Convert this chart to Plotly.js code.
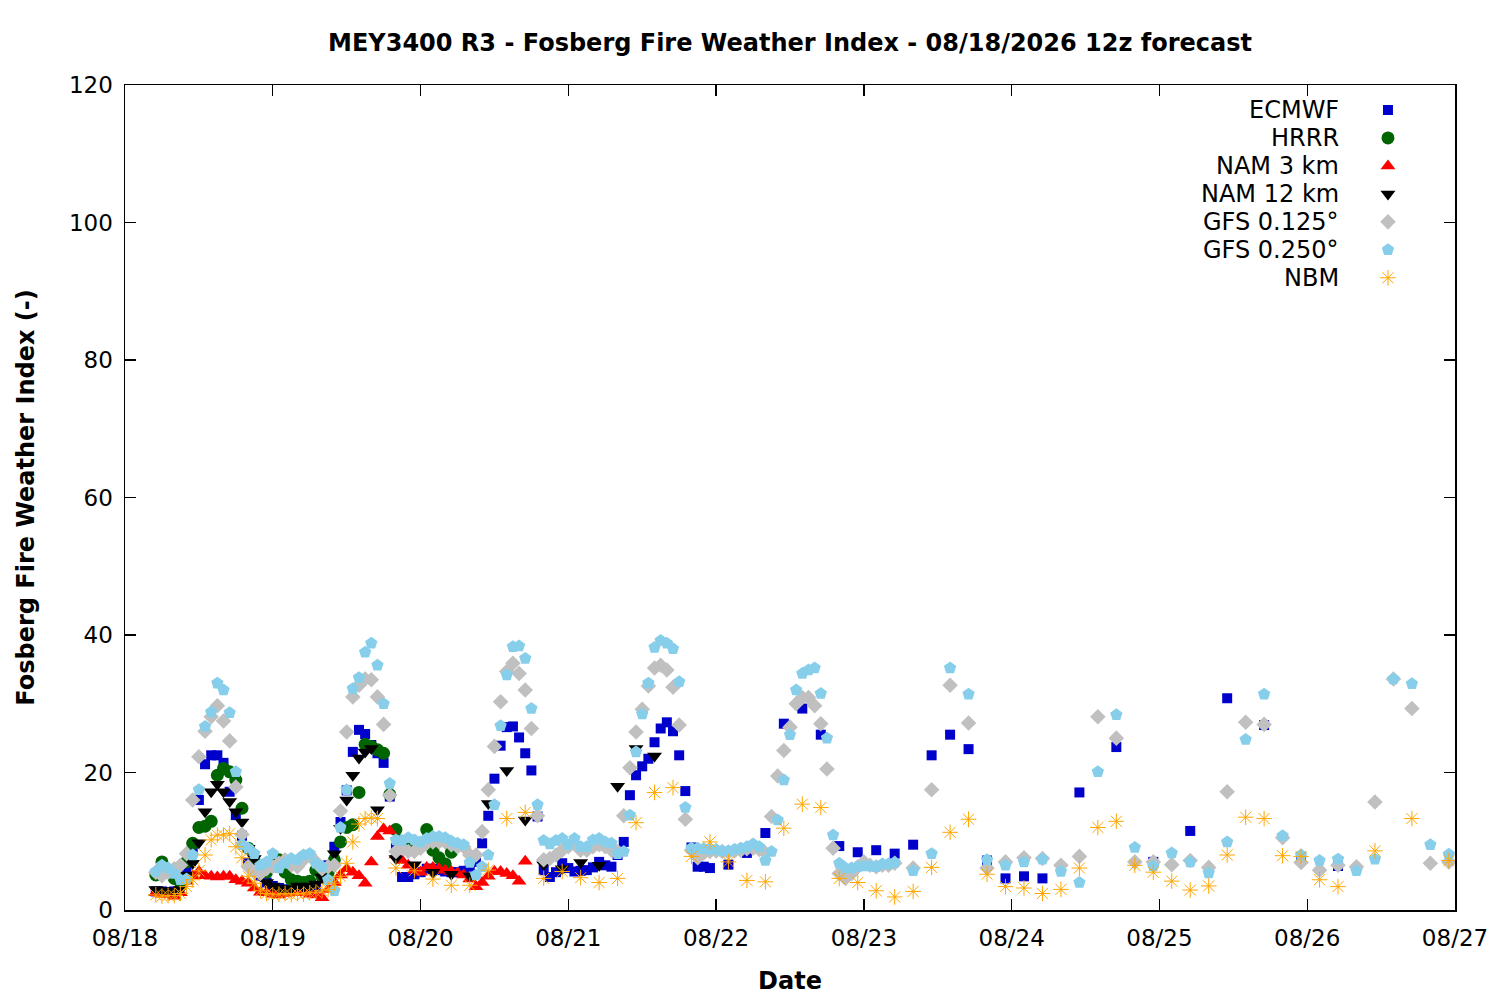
<!DOCTYPE html>
<html>
<head>
<meta charset="utf-8">
<script src="https://cdn.plot.ly/plotly-3.0.1.min.js"></script>
<style>
  html, body { margin: 0; padding: 0; background: #fff; }
  #chart { width: 1500px; height: 1000px; }
</style>
</head>
<body>
<div id="chart"></div>
<script>
// forecast hours are counted from 08/18 00:00 (local time)
function span(a, b, step) {
  var out = [];
  for (var h = a; h <= b; h += step) out.push(h);
  return out;
}
function toDate(h) {
  var d = new Date(Date.UTC(2026, 7, 18, 0) + h * 3600000);
  return d.toISOString().slice(0, 19).replace("T", " ");
}

// ECMWF: hourly to h95, 3-hourly to h149, 6-hourly after
var ecmwfHours = span(5, 95, 1).concat(span(98, 149, 3), span(155, 197, 6));
var ecmwfVals = [
  2.7, 2.7, 2.6, 2.7, 4, 5.8, 8.7, 16, 21.2, 22.5,
  22.5, 21.4, 17.2, 13.8, 10.8, 6.8, 6.3, 5, 4, 3.5,
  3.2, 3, 3, 2.8, 2.9, 3.1, 3.4, 4.6, 6.5, 9.2,
  12.8, 17.4, 23, 26.2, 25.6, 24, 22.8, 21.4, 16.5, 9,
  4.8, 4.8, 5.2, 5.5, 6, 6, 5.8, 5.6, 5.5, 5.5,
  5.7, 6.3, 7, 9.7, 13.7, 19.1, 23.9, 26.6, 26.7, 25.1,
  22.8, 20.3, 13.6, 5.8, 4.8, 5.5, 6.8, 6.1, 5.6, 5.7,
  5.8, 6.2, 7, 6.5, 6.3, 8, 9.9, 16.7, 19.6, 20.9,
  22, 24.4, 26.4, 27.3, 26, 22.5, 17.3, 9.1, 6.3, 6.3,
  6.1,
  6.6, 8.3, 11.2, 27.1, 29.3, 25.5, 9.3, 8.4, 8.7, 8.2,
  9.5, 22.5, 25.5, 23.4, 7.2, 4.6, 4.9, 4.6,
  17.1, 23.7, 7, 11.5, 30.8, 26.9, 7.3, 6.4
];

// HRRR: hourly h5..h53
var hrrrHours = span(5, 53, 1);
var hrrrVals = [
  5.1, 7, 5.5, 4.6, 4, 7, 9.7, 12, 12.2, 12.9,
  19.6, 20.6, 20.1, 18.9, 14.8, 9, 7, 6.5, 5.5, 6.5,
  7.3, 5.5, 4.4, 4.2, 4, 4.2, 5.8, 4.8, 5.5, 7.3,
  9.9, 12, 12.4, 17.1, 24.1, 23.8, 23.3, 22.8, 16.8, 11.7,
  10, 9.5, 9, 9.5, 11.7, 8.7, 7.6, 6.7, 8.4
];

// NAM 3 km: hourly h5..h65
var nam3Hours = span(5, 65, 1);
var nam3Vals = [
  2.5, 2.3, 2.3, 2, 2.5, 4.2, 5, 5.6, 5, 4.9,
  4.8, 4.9, 4.9, 4.4, 4.2, 3.9, 3.2, 2.6, 2.5, 2.3,
  2.2, 2.4, 2.5, 2.5, 2.6, 2.3, 2.2, 1.8, 3, 4,
  5.1, 6, 5.5, 5, 3.9, 7, 10.7, 11.8, 11.5, 8,
  7.2, 6.5, 5.8, 5.5, 6.2, 6.2, 6, 5.8, 5.6, 5.4,
  5.1, 4.5, 3.4, 4, 4.9, 5.6, 5.6, 5.3, 5, 4.2,
  7.1
];

// NAM 12 km: hourly to h41, then 3-hourly
var nam12Hours = span(5, 41, 1).concat(span(44, 86, 3));
var nam12Vals = [
  3, 2.8, 2.8, 2.7, 3, 5.1, 6.8, 9.8, 14.3, 17.2,
  18.3, 17.2, 15.8, 14.3, 12.8, 9, 7.5, 5, 4, 3.5,
  3.2, 3, 3.1, 3.5, 3.4, 3.5, 3.8, 4.8, 6.5, 8.2,
  11.9, 16, 19.6, 22.1, 23, 23.5, 14.6,
  7.5, 6.6, 5.5, 5.2, 5, 15.5, 20.3, 13.1, 6.6, 6,
  6.9, 6.5, 18, 23.5, 22.4
];

// GFS 0.125: hourly to h125, then 3-hourly
var gfs125Hours = span(5, 125, 1).concat(span(128, 215, 3));
var gfs125Vals = [
  5.5, 5, 5.5, 6, 6.5, 8.2, 16, 22.3, 26, 28.1,
  29.7, 27.5, 24.6, 17.9, 11, 6.3, 5.5, 5.3, 6, 6.3,
  6.8, 7.3, 6.5, 6.3, 7.3, 8, 7, 6, 6.3, 6.5,
  14.4, 25.9, 31, 32.7, 33.6, 33.5, 31, 27, 16.7, 8.5,
  9, 8.5, 8.5, 9, 9.7, 9.9, 9.9, 9.9, 9.5, 9.2,
  9.2, 8, 8, 11.4, 17.5, 23.8, 30.3, 34.7, 35.9, 34.4,
  32, 26.4, 13.7, 7.3, 7.5, 8, 8.7, 9.2, 9.6, 8.7,
  8.7, 9.2, 9.5, 9.2, 8.7, 8.5, 13.7, 20.7, 25.9, 29.2,
  32.6, 35.2, 35.6, 34.9, 32.4, 26.9, 13.2, 8.7, 7.6, 8.3,
  8.5, 8.6, 8.5, 8.4, 8.6, 8.7, 8.9, 9, 8.8, 8.3,
  13.6, 19.5, 23.2, 26.6, 30, 30.9, 30.9, 29.7, 27.1, 20.5,
  9, 5.3, 4.6, 5.3, 6.3, 7, 6.5, 6.3, 6.5, 6.5,
  6.8,
  6.1, 17.5, 32.7, 27.2, 6.1, 7, 7.6, 7.5, 6.5, 7.8,
  28.1, 25, 7, 7, 6.6, 7.2, 6.2, 17.2, 27.3, 27,
  10.5, 6.9, 5.8, 6.5, 6.3, 15.7, 33.6, 29.3, 6.8, 7
];

// GFS 0.250: hourly to h125, then 3-hourly
var gfs250Hours = span(5, 125, 1).concat(span(128, 215, 3));
var gfs250Vals = [
  5.6, 6.5, 6.1, 5.3, 4.4, 4.5, 8, 17.5, 26.7, 28.8,
  33, 32, 28.7, 20.1, 9.5, 9, 8.2, 6.5, 7, 8.2,
  6.1, 6.8, 7.5, 7.3, 8, 8.2, 6.8, 6.3, 4.4, 2.8,
  12, 17.5, 32.2, 33.8, 37.5, 38.8, 35.6, 30, 18.4, 10.2,
  10.1, 10.5, 10.2, 9.9, 10.4, 10.7, 10.7, 10.5, 10, 9.7,
  9.5, 6.9, 5.1, 6.3, 8, 15.3, 26.8, 34.2, 38.3, 38.4,
  36.6, 29.3, 15.3, 10.1, 9.6, 10.1, 10.4, 9.5, 10.4, 9.2,
  9.2, 10.2, 10.4, 9.9, 9.7, 8.2, 8.5, 13.8, 23, 28.5,
  33, 38.2, 39.2, 38.8, 38, 33.2, 14.9, 9, 9, 8.9,
  8.8, 8.8, 8.6, 8.6, 8.8, 9, 9.2, 9.6, 9.2, 7.2,
  8.5, 13.1, 18.9, 25.5, 32, 34.4, 34.9, 35.2, 31.5, 25,
  10.9, 6.8, 6.1, 6.1, 6.3, 6.4, 6.4, 6.3, 6.7, 6.7,
  6.9,
  5.7, 8.2, 35.2, 31.4, 7.3, 6.5, 7, 7.4, 5.6, 4,
  20.1, 28.4, 9.1, 6.4, 8.3, 7, 5.4, 9.9, 24.8, 31.4,
  10.8, 8, 7.2, 7.4, 5.7, 7.4, 33.6, 32.9, 9.5, 8.1
];

// NBM: hourly to h41, 3-hourly to h197, 6-hourly after
var nbmHours = span(5, 41, 1).concat(span(44, 197, 3), span(203, 215, 6));
var nbmVals = [
  2.2, 2, 2.1, 2.1, 2.4, 3.4, 4.4, 5.7, 8, 10.2,
  10.9, 10.9, 11.1, 9.2, 7.6, 4.9, 3.9, 2.8, 2.4, 2.2,
  2.3, 2.4, 2.2, 2.4, 2.3, 2.5, 2.6, 2.8, 3, 3.9,
  4.9, 6.8, 9.9, 12.5, 13.3, 13.4, 13.3,
  6.1, 5.7, 4.5, 3.6, 3.6, 5.8, 13.3, 14.2, 4.6, 5.6,
  4.7, 4, 4.6, 12.7, 17.1, 17.8, 7.8, 9.9, 7, 4.3,
  4.1, 11.9, 15.4, 14.9, 4.6, 4, 2.8, 1.9, 2.7, 6.2,
  11.3, 13.2, 5.2, 3.4, 3.2, 2.4, 3, 6.1, 12, 12.9,
  6.5, 5.5, 4.2, 2.9, 3.5, 8, 13.5, 13.3, 7.9, 7.8,
  4.4, 3.4,
  8.6, 13.3, 7.2
];

var models = ["ECMWF", "HRRR", "NAM 3 km", "NAM 12 km", "GFS 0.125°", "GFS 0.250°", "NBM"];
var hoursList = [ecmwfHours, hrrrHours, nam3Hours, nam12Hours, gfs125Hours, gfs250Hours, nbmHours];
var valsList = [ecmwfVals, hrrrVals, nam3Vals, nam12Vals, gfs125Vals, gfs250Vals, nbmVals];

var markers = [
  { symbol: "square", size: 10, color: "#0000cd" },
  { symbol: "circle", size: 13, color: "#006400" },
  { symbol: "triangle-up", size: 13, color: "#ff0000" },
  { symbol: "triangle-down", size: 13, color: "#000000" },
  { symbol: "diamond", size: 12, color: "#c0c0c0" },
  { symbol: "pentagon", size: 13, color: "#87ceeb" },
  { symbol: "asterisk-open", size: 13, color: "#ffa500", line: { color: "#ffa500", width: 1 } }
];

var data = [];
for (var i = 0; i < models.length; i++) {
  data.push({
    x: hoursList[i].map(toDate),
    y: valsList[i],
    name: models[i],
    type: "scatter",
    mode: "markers",
    marker: markers[i],
    showlegend: false,
    cliponaxis: false
  });
}

// gnuplot-style key: label on the left, symbol on the right
var keyTop = 0.9697, keyStep = 0.0339;
var annotations = [];
for (var k = 0; k < models.length; k++) {
  data.push({
    x: [0.9496],
    y: [keyTop - k * keyStep],
    xaxis: "x2",
    yaxis: "y2",
    type: "scatter",
    mode: "markers",
    marker: markers[k],
    showlegend: false,
    hoverinfo: "skip"
  });
  annotations.push({
    xref: "paper", yref: "paper",
    x: 0.914, y: keyTop - k * keyStep,
    xanchor: "right", yanchor: "middle",
    text: models[k],
    showarrow: false,
    font: { family: "DejaVu Sans", size: 24, color: "#000" }
  });
}

var layout = {
  width: 1500,
  height: 1000,
  paper_bgcolor: "#fff",
  plot_bgcolor: "#fff",
  font: { family: "DejaVu Sans", size: 23, color: "#000" },
  margin: { l: 125, r: 45, t: 85, b: 90 },
  title: {
    text: "<b>MEY3400 R3 - Fosberg Fire Weather Index - 08/18/2026 12z forecast</b>",
    font: { family: "DejaVu Sans", size: 24 },
    x: 0.5267, xanchor: "center",
    y: 0.957, yanchor: "middle"
  },
  xaxis: {
    type: "date",
    range: ["2026-08-18 00:00:00", "2026-08-27 00:00:00"],
    dtick: 86400000,
    tick0: "2026-08-18",
    tickformat: "%m/%d",
    ticks: "inside",
    ticklen: 11,
    tickwidth: 1.3,
    tickcolor: "#000",
    showline: true,
    linecolor: "#000",
    linewidth: 1.5,
    mirror: "ticks",
    showgrid: false,
    zeroline: false,
    ticklabelstandoff: 7,
    title: { text: "<b>Date</b>", font: { size: 24 }, standoff: 22 }
  },
  yaxis: {
    range: [0, 120],
    dtick: 20,
    ticks: "inside",
    ticklen: 11,
    tickwidth: 1.3,
    tickcolor: "#000",
    showline: true,
    linecolor: "#000",
    linewidth: 1.5,
    mirror: "ticks",
    showgrid: false,
    zeroline: false,
    ticklabelstandoff: 6,
    title: { text: "<b>Fosberg Fire Weather Index (-)</b>", font: { size: 24 }, standoff: 27 }
  },
  xaxis2: { overlaying: "x", anchor: "y2", range: [0, 1], visible: false, fixedrange: true },
  yaxis2: { overlaying: "y", anchor: "x2", range: [0, 1], visible: false, fixedrange: true },
  annotations: annotations
};

Plotly.newPlot("chart", data, layout, { displayModeBar: false, staticPlot: true });
</script>
</body>
</html>
